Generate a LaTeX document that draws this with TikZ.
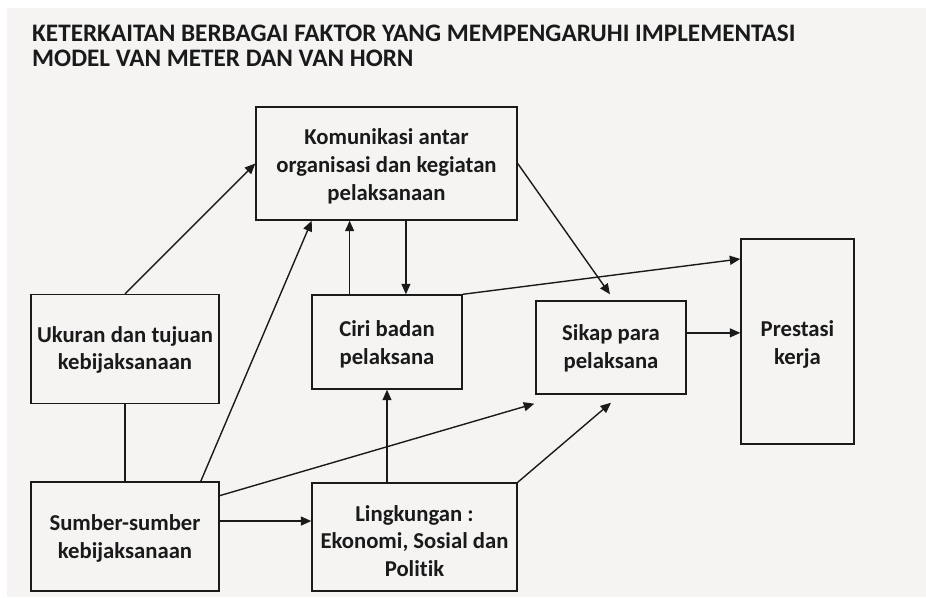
\documentclass[tikz,border=0pt]{standalone}
\usepackage{fontspec}
\setmainfont{Carlito}[Ligatures=NoCommon]
\usetikzlibrary{arrows.meta,calc}
\definecolor{bg}{HTML}{F5F4F3}
\definecolor{ink}{HTML}{1A1A1A}
\tikzset{
  box/.style={draw=ink, line width=1.4pt, fill=bg, inner sep=0pt},
  lbl/.style={inner sep=0pt, align=center,
    font=\fontsize{22.7}{27.8}\selectfont\bfseries, text=ink},
  conn/.style={draw=ink, line width=1.4pt},
  arr/.style={conn, -{Triangle[length=10.5pt,width=9pt]}},
  ttl/.style={anchor=base west, inner sep=0pt, text=ink,
    font=\fontsize{25.2}{30}\selectfont\bfseries}
}
\begin{document}
\begin{tikzpicture}[x=1pt,y=-1pt]
\useasboundingbox (0,0) rectangle (926,597);
\fill[white] (0,0) rectangle (926,597);
\fill[bg] (7,8) rectangle (926,597);
\node[ttl] (t1) at (32,41) {KETERKAITAN BERBAGAI FAKTOR YANG MEMPENGARUHI IMPLEMENTASI};
\node[ttl] (t2) at (32,66) {MODEL VAN METER DAN VAN HORN};

\node[box, minimum width=261pt, minimum height=113pt] (kom) at (386.5,163.5) {};
\node[box, minimum width=188pt, minimum height=109pt] (uk) at (125,349) {};
\node[box, minimum width=188pt, minimum height=109pt] (sum) at (125,536.5) {};
\node[box, minimum width=150pt, minimum height=94pt] (ciri) at (387,342) {};
\node[box, minimum width=150pt, minimum height=93pt] (sikap) at (611,347.5) {};
\node[box, minimum width=205pt, minimum height=108pt] (ling) at (414.5,537) {};
\node[box, minimum width=113pt, minimum height=205pt] (pres) at (797.5,341.5) {};

\node[lbl] (komT) at ($(kom.center)+(0,3)$) {Komunikasi antar\\organisasi dan kegiatan\\pelaksanaan};
\node[lbl] (ukT) at ($(uk.center)+(0,1)$) {Ukuran dan tujuan\\kebijaksanaan};
\node[lbl] (sumT) at ($(sum.center)+(0,2)$) {Sumber-sumber\\kebijaksanaan};
\node[lbl] (ciriT) at ($(ciri.center)+(0,2)$) {Ciri badan\\pelaksana};
\node[lbl] (sikapT) at ($(sikap.center)+(0,1)$) {Sikap para\\pelaksana};
\node[lbl] (lingT) at ($(ling.center)+(0,4)$) {Lingkungan :\\Ekonomi, Sosial dan\\Politik};
\node[lbl] (presT) at ($(pres.center)+(0,3)$) {Prestasi\\kerja};

% helper coordinates on box edges
\coordinate (sumTop) at ($(sum.north west)!0.9!(sum.north east)$);
\coordinate (komB1) at ($(kom.south west)!0.215!(kom.south east)$);
\coordinate (ciriT1) at ($(ciri.north west)!0.253!(ciri.north east)$);
\coordinate (komB2) at ($(kom.south west)!0.574!(kom.south east)$);
\coordinate (presL1) at ($(pres.north west)!0.1!(pres.south west)$);
\coordinate (sikR) at ($(sikap.north east)!0.345!(sikap.south east)$);
\coordinate (sumR1) at ($(sum.north east)!0.13!(sum.south east)$);
\coordinate (sumR2) at ($(sum.north east)!0.36!(sum.south east)$);
\coordinate (sikTop) at ($(sikap.north)+(-1,-6)$);
\coordinate (sikBL) at ($(sikap.south west)+(-1,9)$);
\coordinate (sikBM) at ($(sikap.south)+(0,8)$);

\draw[conn] (uk.south) -- (sum.north);
\draw[arr] (uk.north) -- (kom.west);
\draw[arr] (sumTop) -- (komB1);
\draw[arr] (ciriT1) -- (ciriT1 |- kom.south);
\draw[arr] (komB2) -- (komB2 |- ciri.north);
\draw[arr] (kom.east) -- (sikTop);
\draw[arr] (ciri.north east) -- (presL1);
\draw[arr] (sikR) -- (sikR -| pres.west);
\draw[arr] (sumR1) -- (sikBL);
\draw[arr] (sumR2) -- (sumR2 -| ling.west);
\draw[arr] (ciri.south |- ling.north) -- (ciri.south);
\draw[arr] (ling.north east) -- (sikBM);
\end{tikzpicture}
\end{document}
